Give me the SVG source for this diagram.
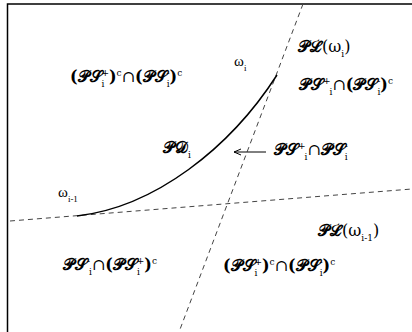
<svg xmlns="http://www.w3.org/2000/svg" width="412" height="332" viewBox="0 0 412 332">
<defs>
<style>
.t{font-family:"DejaVu Serif","Liberation Serif",serif;font-size:16px;font-weight:bold;fill:#000}
.w{font-family:"Liberation Serif",serif;font-size:15px;fill:#000}
.sb{font-size:9px;font-weight:normal;baseline-shift:-5px}
.sp{font-size:9px;font-weight:normal;baseline-shift:6px}
.n{font-weight:normal}
.dash{fill:none;stroke:#444;stroke-width:1;stroke-dasharray:5,4}
</style>
<marker id="ah" markerWidth="8" markerHeight="8" refX="7" refY="4" orient="auto" markerUnits="userSpaceOnUse">
<path d="M0,1 L7,4 L0,7" fill="none" stroke="#000" stroke-width="1"/>
</marker>
</defs>
<rect width="412" height="332" fill="#fff"/>
<g id="frame"><path d="M7.5,332 V4 H412" fill="none" stroke="#000" stroke-width="1.5"/></g>
<g id="connectors">
<line class="dash" x1="303" y1="4" x2="179" y2="332"/>
<line class="dash" x1="10" y1="221" x2="412" y2="189"/>
<path d="M77,216 C155,207 230,148 277,75" fill="none" stroke="#000" stroke-width="1.5"/>
<line x1="266" y1="152" x2="234" y2="152" stroke="#000" stroke-width="1" marker-end="url(#ah)"/>
</g>
<g id="region-top-left"><text class="t" x="70" y="82">(𝒫𝒮<tspan class="sb">i</tspan><tspan class="sp" dx="-3">+</tspan>)<tspan class="sp">c</tspan><tspan class="n">∩</tspan>(𝒫𝒮<tspan class="sb">i</tspan><tspan class="sp" dx="-3">-</tspan>)<tspan class="sp">c</tspan></text></g>
<g id="omega-i"><text class="w" x="234" y="66">ω<tspan class="sb">i</tspan></text></g>
<g id="PL-omega-i"><text class="t" x="298" y="52">𝒫ℒ<tspan class="n">(ω</tspan><tspan class="sb">i</tspan><tspan class="n">)</tspan></text></g>
<g id="region-top-right"><text class="t" x="299" y="90">𝒫𝒮<tspan class="sp">+</tspan><tspan class="sb" dx="-1">i</tspan><tspan class="n">∩</tspan>(𝒫𝒮<tspan class="sb">i</tspan><tspan class="sp" dx="-3">-</tspan>)<tspan class="sp">c</tspan></text></g>
<g id="PD-i"><text class="t" x="163" y="153">𝒫𝒟<tspan class="sb">i</tspan></text></g>
<g id="region-intersection"><text class="t" x="274" y="155">𝒫𝒮<tspan class="sp">+</tspan><tspan class="sb" dx="-1">i</tspan><tspan class="n">∩</tspan>𝒫𝒮<tspan class="sb">i</tspan><tspan class="sp" dx="-3">-</tspan></text></g>
<g id="omega-i-1"><text class="w" x="58" y="197">ω<tspan class="sb">i-1</tspan></text></g>
<g id="PL-omega-i-1"><text class="t" x="318" y="236">𝒫ℒ<tspan class="n">(ω</tspan><tspan class="sb">i-1</tspan><tspan class="n">)</tspan></text></g>
<g id="region-bottom-left"><text class="t" x="63" y="270">𝒫𝒮<tspan class="sp">-</tspan><tspan class="sb" dx="-1">i</tspan><tspan class="n">∩</tspan>(𝒫𝒮<tspan class="sb">i</tspan><tspan class="sp" dx="-3">+</tspan>)<tspan class="sp">c</tspan></text></g>
<g id="region-bottom-right"><text class="t" x="223" y="271">(𝒫𝒮<tspan class="sb">i</tspan><tspan class="sp" dx="-3">+</tspan>)<tspan class="sp">c</tspan><tspan class="n">∩</tspan>(𝒫𝒮<tspan class="sb">i</tspan><tspan class="sp" dx="-3">-</tspan>)<tspan class="sp">c</tspan></text></g>
</svg>
